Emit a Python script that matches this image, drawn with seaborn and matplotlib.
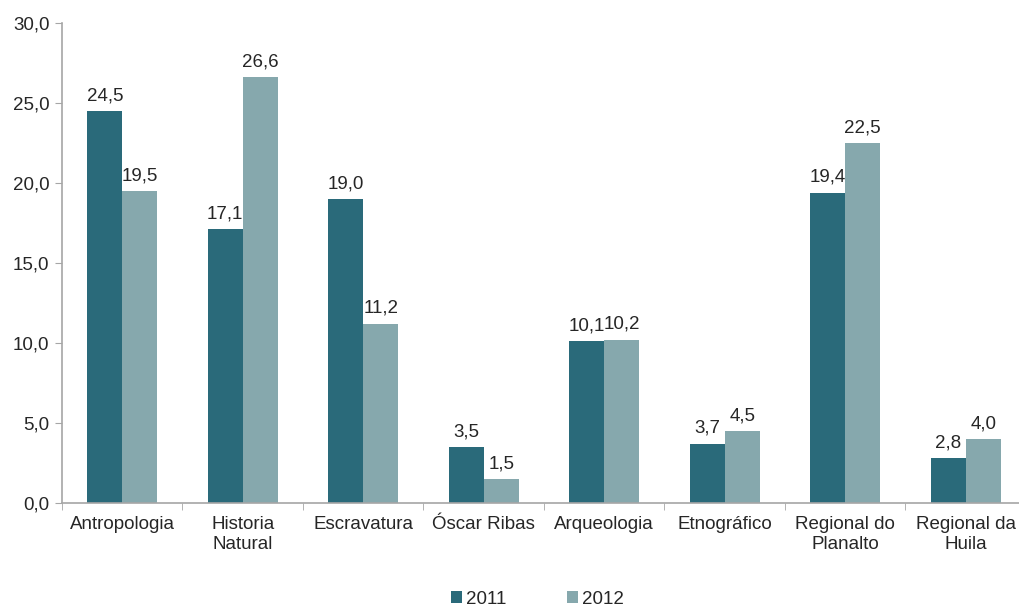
import matplotlib as mpl
import matplotlib.pyplot as plt
import numpy as np
import pandas as pd
import seaborn as sns

museums = ['Antropologia', 'Historia\nNatural', 'Escravatura', 'Óscar Ribas',
           'Arqueologia', 'Etnográfico', 'Regional do\nPlanalto', 'Regional da\nHuila']
years = ['2011', '2012']
values_2011 = [24.5, 17.1, 19.0, 3.5, 10.1, 3.7, 19.4, 2.8]
values_2012 = [19.5, 26.6, 11.2, 1.5, 10.2, 4.5, 22.5, 4.0]
yticks = [0, 5, 10, 15, 20, 25, 30]

df = pd.DataFrame({
    'Museu': museums * 2,
    'Ano': [years[0]] * len(museums) + [years[1]] * len(museums),
    'valor': values_2011 + values_2012,
})

sns.set_style('white')
plt.rcParams['font.family'] = ['Liberation Sans', 'DejaVu Sans']
axis_grey = '#a6a6a6'
text_col = '#262626'
fs = 13.5

fig = plt.figure(figsize=(10.2, 6.07), dpi=100)
ax = fig.add_axes([62 / 1020, 1 - 503 / 607, 964 / 1020, 480 / 607])
sns.barplot(data=df, x='Museu', y='valor', hue='Ano', order=museums, hue_order=years,
            palette=['#2a6a7a', '#86a8ad'], width=0.58, gap=0, saturation=1,
            linewidth=0, ax=ax)

for cont in ax.containers:
    ax.bar_label(cont, labels=[f'{v:.1f}'.replace('.', ',') for v in cont.datavalues],
                 padding=5, fontsize=fs, color=text_col)

ax.set_xlim(-0.5, len(museums) - 0.5)
ax.set_ylim(0, 30)
ax.set_yticks(yticks)
ax.set_yticklabels([f'{v:.1f}'.replace('.', ',') for v in yticks])
ax.set_xlabel('')
ax.set_ylabel('')
ax.tick_params(axis='y', left=True, length=5, color=axis_grey, labelsize=fs,
               labelcolor=text_col, pad=4)
ax.tick_params(axis='x', bottom=False, labelsize=fs, labelcolor=text_col, pad=6)
ax.set_xticks(np.arange(len(museums) + 1) - 0.5, minor=True)
ax.tick_params(axis='x', which='minor', bottom=True, length=5, color=axis_grey)

for side in ['top', 'right']:
    ax.spines[side].set_visible(False)
for side in ['left', 'bottom']:
    ax.spines[side].set_color(axis_grey)
    ax.spines[side].set_linewidth(1.2)

ax.legend(loc='center', bbox_to_anchor=(0.493, -0.2), ncol=2, frameon=False,
          fontsize=fs, handlelength=0.6, handleheight=0.6, handletextpad=0.2,
          columnspacing=3.2, labelcolor=text_col)

fig.savefig('out.png', dpi=100)
